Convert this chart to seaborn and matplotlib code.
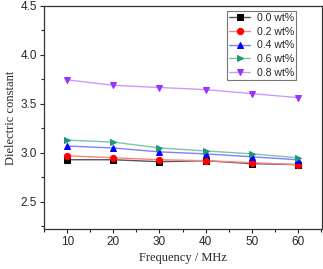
import pandas as pd
import seaborn as sns
import matplotlib.pyplot as plt
from matplotlib.ticker import MultipleLocator

freq = [10, 20, 30, 40, 50, 60]
labels = ['0.0 wt%', '0.2 wt%', '0.4 wt%', '0.6 wt%', '0.8 wt%']
eps_00 = [2.93, 2.93, 2.91, 2.92, 2.89, 2.88]
eps_02 = [2.97, 2.95, 2.93, 2.92, 2.90, 2.88]
eps_04 = [3.07, 3.05, 3.01, 2.99, 2.96, 2.93]
eps_06 = [3.13, 3.11, 3.05, 3.02, 2.99, 2.95]
eps_08 = [3.745, 3.69, 3.667, 3.646, 3.605, 3.564]

df = pd.DataFrame({'freq': freq * 5,
                   'eps': eps_00 + eps_02 + eps_04 + eps_06 + eps_08,
                   'sample': [l for l in labels for _ in freq]})

marker_colors = ['#000000', '#ff0000', '#0000ff', '#1f9a78', '#9933ff']
line_colors = ['#555555', '#ff8080', '#8080ff', '#7fc4ac', '#cc99ff']
markers = ['s', 'o', '^', '>', 'v']

sns.set_style('ticks')
plt.rcParams['font.family'] = ['Liberation Sans', 'DejaVu Sans']

fig = plt.figure(figsize=(3.23, 2.69), dpi=100)
ax = fig.add_axes([0.137, 0.1476, 0.859, 0.8304])

for lab, lc, mc, m in zip(labels, line_colors, marker_colors, markers):
    sns.lineplot(data=df[df['sample'] == lab], x='freq', y='eps', ax=ax,
                 color=lc, marker=m, markersize=4.5, markerfacecolor=mc,
                 markeredgecolor=mc, linewidth=1.0, label=lab)

ax.set_xlim(5, 65.2)
ax.set_ylim(2.22, 4.5)
ax.xaxis.set_major_locator(MultipleLocator(10))
ax.xaxis.set_minor_locator(MultipleLocator(5))
ax.yaxis.set_major_locator(MultipleLocator(0.5))
ax.yaxis.set_minor_locator(MultipleLocator(0.25))
ax.tick_params(which='major', length=3, width=0.8, labelsize=8.5, pad=2, direction='out')
ax.tick_params(which='minor', length=2, width=0.8, direction='out')
ax.set_yticks([2.5, 3.0, 3.5, 4.0, 4.5])
ax.set_yticklabels(['2.5', '3.0', '3.5', '4.0', '4.5'])
for s in ax.spines.values():
    s.set_color('#333333')
    s.set_linewidth(0.9)

ax.set_xlabel('Frequency / MHz', fontfamily='Liberation Serif', fontsize=9, labelpad=3)
ax.set_ylabel('Dielectric constant', fontfamily='Liberation Serif', fontsize=9, labelpad=3)

leg = ax.legend(loc='upper right', bbox_to_anchor=(0.907, 0.978), borderaxespad=0,
                fontsize=7.6, frameon=True, fancybox=False, handlelength=2.0,
                handletextpad=0.6, labelspacing=0.35, borderpad=0.2)
leg.get_frame().set_edgecolor('#555555')
leg.get_frame().set_linewidth(0.8)

fig.savefig('out.png', dpi=100)
